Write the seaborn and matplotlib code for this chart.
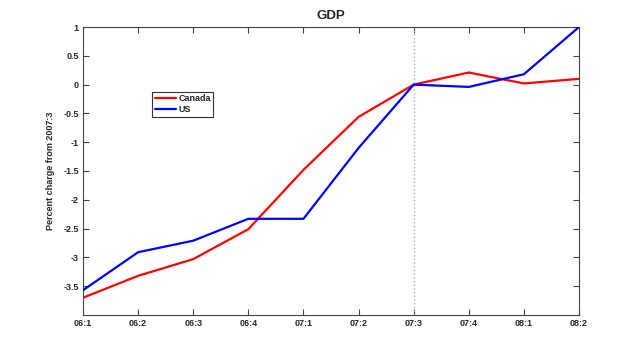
import numpy as np
import pandas as pd
import matplotlib
matplotlib.use("Agg")
import matplotlib.pyplot as plt
import seaborn as sns

# Quarter labels and values (percent change from 2007:3)
quarters = ["06:1", "06:2", "06:3", "06:4", "07:1", "07:2", "07:3", "07:4", "08:1", "08:2"]
canada = [-3.70, -3.32, -3.03, -2.51, -1.48, -0.56, 0.00, 0.21, 0.02, 0.10]
us = [-3.57, -2.91, -2.71, -2.33, -2.33, -1.10, 0.00, -0.04, 0.18, 1.00]

df = pd.DataFrame({
    "q": list(range(len(quarters))) * 2,
    "value": canada + us,
    "country": ["Canada"] * len(quarters) + ["US"] * len(quarters),
})

sns.set_style("white")
plt.rcParams["font.family"] = ["Liberation Sans", "DejaVu Sans"]
plt.rcParams["font.weight"] = "bold"

fig = plt.figure(figsize=(6.4, 3.54), dpi=100)
ax = fig.add_axes([0.1297, 0.1102, 0.775, 0.8135])

ax.axvline(quarters.index("07:3"), color="#b0b0b0", linestyle=":", linewidth=1, zorder=1)
sns.lineplot(data=df, x="q", y="value", hue="country",
             palette={"Canada": "red", "US": "blue"}, linewidth=1.6, ax=ax, zorder=3)

ax.set_xlim(0, len(quarters) - 1)
ax.set_ylim(-4, 1)
ax.set_xticks(range(len(quarters)))
ax.set_xticklabels(quarters)
ax.set_yticks(np.arange(-3.5, 1.01, 0.5))
ax.set_yticklabels([f"{t:g}" for t in np.arange(-3.5, 1.01, 0.5)])
ax.tick_params(direction="in", length=4, width=0.8, labelsize=6.5, color="#444444",
               top=True, right=True, bottom=True, left=True, pad=3)
for s in ax.spines.values():
    s.set_color("#444444")
    s.set_linewidth(0.8)

ax.set_title("GDP", fontsize=9.5, fontweight="bold", pad=6)
ax.set_xlabel("")
ax.set_ylabel("Percent charge from 2007:3", fontsize=6.5, fontweight="bold", labelpad=6)

leg = ax.legend(loc="upper left", bbox_to_anchor=(0.139, 0.776), fontsize=6.5,
                frameon=True, fancybox=False, edgecolor="black", borderpad=0.3,
                handlelength=2.4, handletextpad=0.2, labelspacing=0.2, borderaxespad=0)
leg.get_frame().set_linewidth(0.8)
for line in leg.get_lines():
    line.set_linewidth(1.6)

fig.savefig("out.png", dpi=100)
